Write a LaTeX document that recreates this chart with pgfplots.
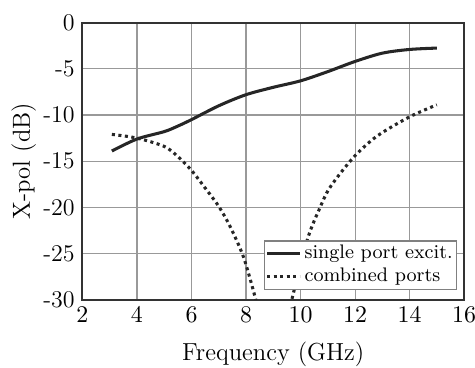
\documentclass[border=0pt]{standalone}
\usepackage{pgfplots}
\pgfplotsset{compat=1.18}
\begin{document}
\begin{tikzpicture}
\begin{axis}[
  name=ax,
  scale only axis,
  width=175pt, height=127pt,
  xmin=2, xmax=16, ymin=-30, ymax=0,
  xtick={2,4,...,16},
  ytick={-30,-25,-20,-15,-10,-5,0},
  yticklabels={-30,-25,-20,-15,-10,-5,0},
  major tick length=0pt,
  grid=major,
  grid style={line width=0.5pt, color=black!40},
  axis line style={line width=0.9pt, color=black!80},
  tick label style={font=\fontsize{11}{13}\selectfont},
  xlabel={Frequency (GHz)},
  ylabel={X-pol (dB)},
  label style={font=\fontsize{11.3}{13}\selectfont},
  xlabel style={at={(axis description cs:0.5,-0.197)}, anchor=center},
  ylabel style={at={(axis description cs:-0.154,0.5)}, anchor=center},
  legend style={at={(axis description cs:0.982,0.036)}, anchor=south east,
    draw=black!50, line width=0.5pt, font=\fontsize{9}{11}\selectfont,
    inner xsep=0.3pt, inner ysep=0.3pt,
    nodes={inner sep=1.5pt, text depth=0.15em},
    cells={anchor=west}},
  legend image code/.code={\path (0pt,0pt) -- (15pt,0pt);\draw[#1] (0pt,0pt) -- (13.8pt,0pt);},
]
\addplot[smooth, line width=1.4pt, black!85] coordinates {
(3.08,-13.9) (4,-12.6) (5,-11.8) (5.5,-11.2) (6,-10.5) (7,-9.0) (8,-7.8) (9,-7.0)
(10,-6.3) (11,-5.3) (12,-4.2) (13,-3.3) (14,-2.9) (15,-2.75)};
\addlegendentry{single port excit.}
\addplot[smooth, line width=1.4pt, black!85, dash pattern=on 1.4pt off 1.6pt] coordinates {
(3.08,-12.1) (4,-12.5) (5,-13.4) (5.5,-14.5) (6,-16.0) (6.5,-17.9) (7,-19.9)
(7.42,-22.1) (7.91,-25.4) (8.34,-29.8) (8.5,-32)};
\addlegendentry{combined ports}
\addplot[smooth, line width=1.4pt, black!85, dash pattern=on 1.4pt off 1.6pt, forget plot] coordinates {
(9.55,-32) (9.68,-30) (10.26,-23.4) (10.72,-20) (11.09,-17.8) (11.94,-14.6)
(12.8,-12.3) (14,-10.2) (15,-8.9)};
\end{axis}
\pgfresetboundingbox
\path ([shift={(-37.8pt,-31.2pt)}]ax.south west) rectangle ([shift={(5pt,10.4pt)}]ax.north east);
\end{tikzpicture}
\end{document}
